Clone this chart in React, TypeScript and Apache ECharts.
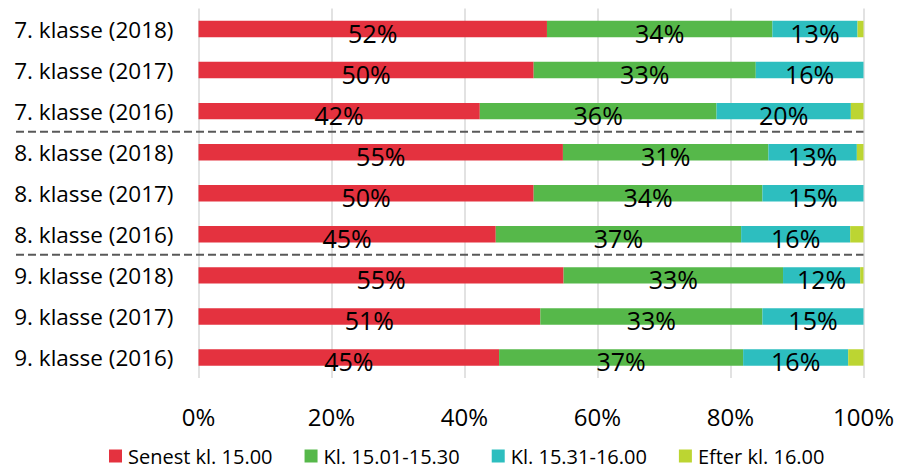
import React, { useEffect, useRef } from "react";
import * as echarts from "echarts";

const categories = [
  "7. klasse (2018)",
  "7. klasse (2017)",
  "7. klasse (2016)",
  "8. klasse (2018)",
  "8. klasse (2017)",
  "8. klasse (2016)",
  "9. klasse (2018)",
  "9. klasse (2017)",
  "9. klasse (2016)",
];

const seriesNames = ["Senest kl. 15.00", "Kl. 15.01-15.30", "Kl. 15.31-16.00", "Efter kl. 16.00"];

const senest = [52.4, 50.4, 42.3, 54.8, 50.4, 44.7, 54.9, 51.4, 45.2];
const kl1530 = [33.9, 33.4, 35.6, 30.9, 34.4, 36.9, 33.0, 33.4, 36.7];
const kl1600 = [12.8, 16.2, 20.2, 13.3, 15.2, 16.4, 11.6, 15.2, 15.8];
const efter = [0.9, 0.0, 1.9, 1.0, 0.0, 2.0, 0.5, 0.0, 2.3];

const xTicks = [0, 20, 40, 60, 80, 100];
const separatorsAfter = [2, 5];

const colors = ["#E4323F", "#56B84A", "#2DBEBF", "#BCD532"];
const FONT = "'Open Sans', 'Noto Sans', sans-serif";

export default function App() {
  const ref = useRef<HTMLDivElement>(null);

  useEffect(() => {
    if (!ref.current) return;
    const chart = echarts.init(ref.current, null, { renderer: "svg" });
    const values = [senest, kl1530, kl1600, efter];

    const series = values.map((arr, i) => ({
      name: seriesNames[i],
      type: "bar",
      stack: "total",
      barWidth: "40%",
      data: arr,
      itemStyle: { color: colors[i] },
      label: {
        show: i < 3,
        position: "inside",
        offset: [0, 4],
        color: "#000",
        fontFamily: FONT,
        fontSize: 25,
        formatter: (p: any) => Math.round(p.value) + "%",
      },
    }));

    chart.setOption({
      animation: false,
      textStyle: { fontFamily: FONT },
      grid: { left: 198.5, right: 35.5, top: 8.5, height: 369.5, containLabel: false },
      legend: {
        data: seriesNames,
        top: 446,
        left: 109,
        padding: 0,
        icon: "rect",
        itemWidth: 13,
        itemHeight: 13,
        itemGap: 32,
        textStyle: {
          fontFamily: FONT,
          fontSize: 20,
          lineHeight: 20,
          color: "#000",
          padding: [0, 0, 0, 1],
        },
      },
      xAxis: {
        type: "value",
        min: xTicks[0],
        max: xTicks[xTicks.length - 1],
        interval: 20,
        axisLine: { show: false },
        axisTick: { show: false },
        splitLine: { lineStyle: { color: "#D9D9D9", width: 1.5 } },
        axisLabel: {
          margin: 26,
          color: "#000",
          fontFamily: FONT,
          fontSize: 24,
          formatter: (v: number) => v + "%",
        },
      },
      yAxis: {
        type: "category",
        data: categories,
        inverse: true,
        axisLine: { show: false },
        axisTick: { show: false },
        axisLabel: { margin: 25, color: "#000", fontFamily: FONT, fontSize: 22.5 },
      },
      series,
    });

    const right = chart.convertToPixel({ xAxisIndex: 0 }, 100) as number;
    const graphic = separatorsAfter.map((idx) => {
      const y1 = chart.convertToPixel({ yAxisIndex: 0 }, categories[idx]) as number;
      const y2 = chart.convertToPixel({ yAxisIndex: 0 }, categories[idx + 1]) as number;
      const y = (y1 + y2) / 2;
      return {
        type: "line",
        shape: { x1: 16, y1: y, x2: right, y2: y },
        style: { stroke: "#595959", lineWidth: 2, lineDash: [8, 4] },
        z: 10,
      };
    });
    chart.setOption({ graphic });

    return () => chart.dispose();
  }, []);

  return (
    <div
      ref={ref}
      style={{ position: "absolute", left: 0, top: 0, width: 899, height: 471 }}
    />
  );
}
